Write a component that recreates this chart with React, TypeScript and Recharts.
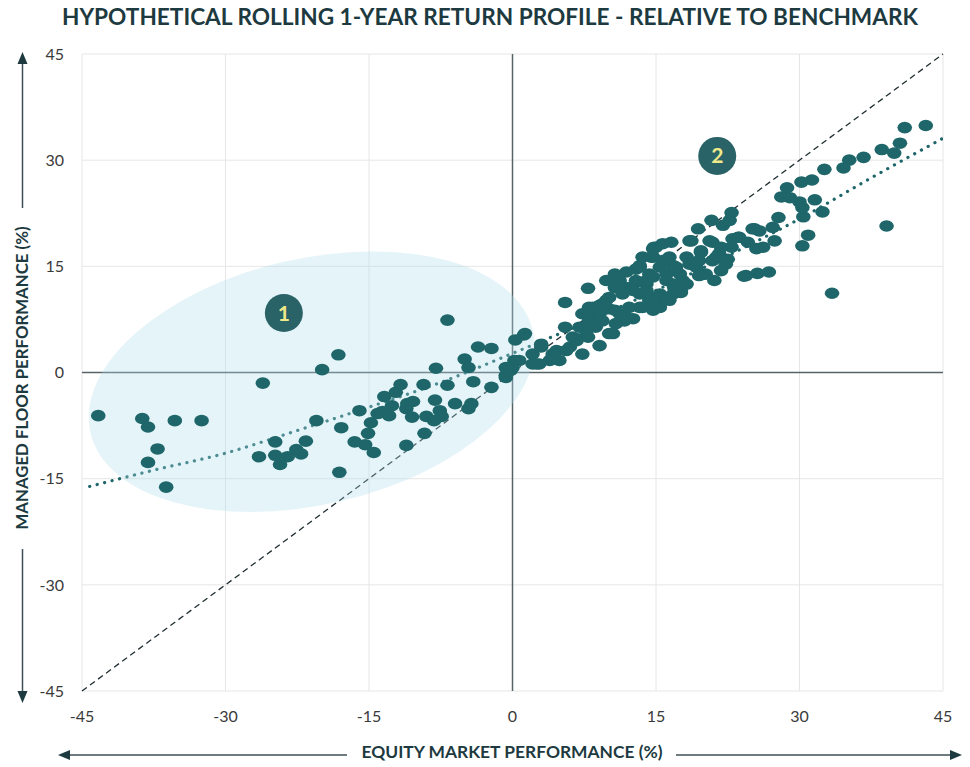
import React from "react";
import {
  ComposedChart,
  Scatter,
  Line,
  XAxis,
  YAxis,
  CartesianGrid,
  ReferenceLine,
} from "recharts";

// axis ticks (%)
const TICKS = [-45, -30, -15, 0, 15, 30, 45];

// [equity market %, managed floor %] — downside / left side
const downsidePoints: [number, number][] = [
  [-43.3, -6.1], [-38.7, -6.5], [-38.1, -7.7], [-35.3, -6.8], [-32.5, -6.8],
  [-37.1, -10.8], [-38.1, -12.7], [-36.2, -16.2], [-26.1, -1.5], [-19.9, 0.4],
  [-18.2, 2.5], [-6.8, 7.4], [-26.5, -11.9], [-24.8, -9.8], [-24.8, -11.7],
  [-24.3, -13.0], [-23.5, -11.9], [-22.6, -10.9], [-22.1, -11.5], [-21.6, -9.7],
  [-20.5, -6.8], [-17.9, -7.8], [-18.1, -14.1], [-16.5, -9.8], [-15.4, -10.2],
  [-14.5, -11.3], [-16.0, -5.4], [-15.1, -8.6], [-14.8, -7.1], [-14.1, -5.8],
  [-13.6, -5.5], [-12.9, -6.1], [-13.4, -3.4], [-12.6, -4.7], [-12.2, -2.8],
  [-11.7, -1.7], [-11.1, -10.3], [-11.1, -5.1], [-11.0, -4.4], [-10.5, -6.3],
  [-10.4, -4.1], [-9.3, -1.7], [-9.2, -8.6], [-9.0, -6.2], [-8.1, -3.9],
  [-8.2, -6.8], [-7.6, -5.4], [-7.4, -6.2], [-8.0, 0.6], [-6.8, -1.8],
  [-6.0, -4.4], [-5.0, 1.9], [-4.6, 0.7], [-4.1, -1.3], [-4.6, -5.1],
  [-4.3, -4.4], [-3.6, 3.6], [-2.2, 3.4], [-2.2, -2.1], [-0.7, -0.4],
  [-0.2, 0.3], [0.3, 4.6], [1.2, 5.3], [0.2, 1.7],
];

// upside / right side
const upsidePoints: [number, number][] = [
  [41.0, 34.6], [43.2, 34.9], [38.6, 31.5], [39.9, 31.0], [40.5, 32.4],
  [36.7, 30.4], [35.2, 30.0], [34.6, 28.9], [32.6, 28.7], [31.3, 27.2],
  [30.2, 26.9], [28.7, 26.1], [28.1, 24.8], [29.0, 24.7], [30.0, 24.1],
  [31.6, 24.4], [32.4, 22.7], [30.4, 22.0], [30.3, 23.3], [27.8, 21.9],
  [27.2, 20.5], [25.3, 20.3], [25.8, 20.0], [30.9, 19.4], [30.3, 17.9],
  [39.1, 20.7], [33.4, 11.2], [24.2, 13.6], [25.6, 14.0], [26.8, 14.2],
  [27.4, 18.6], [26.2, 17.7], [25.5, 17.5], [24.6, 18.4], [23.6, 19.1],
  [22.9, 17.7], [22.9, 22.6], [22.0, 20.8], [20.8, 21.5], [19.4, 20.3],
  [18.5, 18.6], [19.7, 17.0], [20.9, 18.4], [21.6, 16.8], [22.5, 16.0],
  [20.9, 15.8], [21.8, 14.4], [21.1, 13.0], [18.7, 15.4], [19.9, 13.9],
  [16.6, 18.4], [15.0, 17.7], [14.5, 16.3], [15.7, 15.8], [13.3, 15.1],
  [11.9, 14.2], [7.9, 11.9], [5.5, 9.9], [10.8, 12.0], [14.0, 12.5],
  [16.1, 13.9], [17.8, 13.0], [17.6, 11.3], [16.4, 10.2], [15.4, 9.7],
  [14.0, 11.1], [13.3, 9.2], [12.6, 7.6], [14.7, 8.8], [9.8, 10.2],
  [9.1, 9.5], [8.4, 8.3], [10.1, 9.0], [11.2, 8.3], [11.9, 7.8],
  [10.5, 5.5], [9.1, 3.8], [7.3, 2.6], [6.7, 4.8], [5.5, 6.4],
  [8.7, 6.4], [7.7, 5.9], [8.0, 7.3], [6.0, 3.6], [4.6, 3.1],
  [3.0, 3.6], [4.2, 2.2], [2.8, 1.2], [1.3, 5.5], [0.7, 1.7],
  [2.1, 1.2], [-0.7, -0.7], [0.0, 0.7], [9.8, 13.0], [10.7, 13.9],
  [11.9, 12.0], [12.9, 12.7], [13.3, 11.1], [14.7, 17.5], [14.3, 13.9],
  [16.8, 15.1], [16.9, 12.0], [3.0, 4.0], [4.2, 2.6], [5.6, 3.1],
  [6.7, 4.5], [7.9, 5.0], [8.7, 6.9], [10.1, 5.5], [9.1, 8.3],
  [8.4, 9.2], [10.1, 10.6], [10.7, 12.0], [12.9, 14.6], [11.2, 13.0],
  [11.5, 11.1], [14.0, 11.6], [14.7, 13.5], [14.8, 17.7], [15.7, 18.2],
  [14.7, 16.3], [15.4, 14.9], [16.1, 13.0], [15.4, 11.1], [16.8, 11.1],
  [17.6, 11.6], [17.5, 13.9], [18.5, 15.3], [18.7, 18.6], [22.7, 21.5],
  [19.7, 17.2], [20.6, 18.6], [21.3, 16.3], [21.8, 17.7], [23.0, 18.9],
  [20.2, 13.9], [19.5, 13.7], [19.2, 14.9], [24.4, 13.7], [23.7, 19.1],
  [25.1, 20.3], [13.6, 16.3], [12.9, 13.0], [10.7, 8.8], [11.7, 7.3],
  [8.0, 9.2], [7.0, 6.4], [6.3, 5.0], [2.1, 2.6], [-0.7, 0.7],
  [3.9, 1.7], [2.5, 1.2], [4.9, 1.7], [7.3, 8.3], [9.4, 7.3],
  [13.3, 14.9], [14.0, 13.0], [16.4, 16.3], [17.1, 14.9], [15.4, 9.2],
  [13.6, 9.2], [16.1, 10.6], [18.2, 12.5], [10.8, 6.9], [9.4, 9.7],
  [12.6, 11.6], [12.2, 9.2], [14.3, 10.2], [16.8, 12.5], [18.2, 16.3],
  [19.5, 15.8], [22.3, 15.3],
];

// dotted trend curve
const trendX = [-44.2, -37.5, -30, -22.5, -15, -7.5, 0, 7.5, 15, 22.5, 30, 37.5, 45];
const trendY = [-16.1, -13.8, -11.4, -8.2, -4.9, -1.4, 2.7, 7.0, 11.6, 16.5, 21.7, 27.5, 33.1];

// shaded zone + numbered markers
const zoneCenter = [{ x: -21.0, y: -1.3 }];
const markers = [
  { x: -23.9, y: 8.4, label: "1" },
  { x: 21.4, y: 30.6, label: "2" },
];

const TEAL = "#1e6669";
const INK = "#1d3a40";
const FONT = "Lato, 'Noto Sans', sans-serif";

const dots = [...downsidePoints, ...upsidePoints].map(([x, y]) => ({ x, y }));
const trend = trendX.map((x, i) => ({ x, y: trendY[i] }));

const DotShape = (p: any) => (
  <ellipse cx={p.cx} cy={p.cy} rx={7.3} ry={5.8} fill={TEAL} />
);

const ZoneShape = (p: any) => (
  <ellipse
    cx={p.cx}
    cy={p.cy}
    rx={227}
    ry={123}
    fill="rgb(175,221,232)"
    fillOpacity={0.32}
    transform={`rotate(-13 ${p.cx} ${p.cy})`}
  />
);

const MarkerShape = (p: any) => (
  <g>
    <circle cx={p.cx} cy={p.cy} r={19} fill="#2a6367" />
    <text
      x={p.cx}
      y={p.cy + 7.5}
      textAnchor="middle"
      fontFamily={FONT}
      fontWeight={700}
      fontSize={21}
      fill="#f0e98a"
    >
      {p.payload.label}
    </text>
  </g>
);

const tickStyle = { fontFamily: FONT, fontSize: 16, fill: "#3a3a3a" };

export default function App() {
  return (
    <div style={{ position: "absolute", left: 0, top: 0, width: 970, height: 767, background: "#fff" }}>
      <ComposedChart
        width={970}
        height={767}
        margin={{ top: 54, right: 27, bottom: 26, left: 22 }}
      >
        <CartesianGrid stroke="#e6e6e6" strokeWidth={1} />
        <XAxis
          type="number"
          dataKey="x"
          domain={[-45, 45]}
          ticks={TICKS}
          axisLine={false}
          tickLine={false}
          tickSize={0}
          tickMargin={20}
          height={50}
          tick={tickStyle}
          allowDataOverflow
        />
        <YAxis
          type="number"
          dataKey="y"
          domain={[-45, 45]}
          ticks={TICKS}
          axisLine={false}
          tickLine={false}
          tickSize={0}
          tickMargin={18}
          width={60}
          tick={tickStyle}
          allowDataOverflow
        />
        <Scatter data={zoneCenter} shape={ZoneShape} isAnimationActive={false} />
        <ReferenceLine x={0} stroke="#56646a" strokeWidth={1.5} />
        <ReferenceLine y={0} stroke="#56646a" strokeWidth={1.5} />
        <Line
          data={trend}
          dataKey="y"
          type="monotone"
          dot={false}
          activeDot={false}
          stroke={TEAL}
          strokeWidth={3.2}
          strokeDasharray="0.1 7.6"
          strokeLinecap="round"
          isAnimationActive={false}
        />
        <Scatter data={dots} shape={DotShape} isAnimationActive={false} />
        <ReferenceLine
          segment={[{ x: -45, y: -45 }, { x: 45, y: 45 }]}
          stroke="#1f2d31"
          strokeWidth={1.3}
          strokeDasharray="6 4"
        />
        <Scatter data={markers} shape={MarkerShape} isAnimationActive={false} />
      </ComposedChart>

      <svg
        width={970}
        height={767}
        style={{ position: "absolute", left: 0, top: 0, pointerEvents: "none" }}
      >
        <text
          x={490}
          y={25}
          textAnchor="middle"
          fontFamily={FONT}
          fontWeight={700}
          fontSize={22}
          fill={INK}
          textLength={856}
          lengthAdjust="spacingAndGlyphs"
        >
          HYPOTHETICAL ROLLING 1-YEAR RETURN PROFILE - RELATIVE TO BENCHMARK
        </text>

        {/* x axis title with arrows */}
        <text
          x={512}
          y={758}
          textAnchor="middle"
          fontFamily={FONT}
          fontWeight={700}
          fontSize={17}
          fill={INK}
          textLength={301}
          lengthAdjust="spacingAndGlyphs"
        >
          EQUITY MARKET PERFORMANCE (%)
        </text>
        <line x1={347} y1={755} x2={66} y2={755} stroke="#3d4f55" strokeWidth={1.5} />
        <polygon points="58,755 70,750 70,760" fill={INK} />
        <line x1={676} y1={755} x2={954} y2={755} stroke="#3d4f55" strokeWidth={1.5} />
        <polygon points="962,755 950,750 950,760" fill={INK} />

        {/* y axis title with arrows */}
        <text
          x={0}
          y={0}
          transform="translate(28 378) rotate(-90)"
          textAnchor="middle"
          fontFamily={FONT}
          fontWeight={700}
          fontSize={17}
          fill={INK}
          textLength={303}
          lengthAdjust="spacingAndGlyphs"
        >
          MANAGED FLOOR PERFORMANCE (%)
        </text>
        <line x1={22.5} y1={208} x2={22.5} y2={60} stroke="#3d4f55" strokeWidth={1.5} />
        <polygon points="22.5,52 17.5,64 27.5,64" fill={INK} />
        <line x1={22.5} y1={549} x2={22.5} y2={695} stroke="#3d4f55" strokeWidth={1.5} />
        <polygon points="22.5,703 17.5,691 27.5,691" fill={INK} />
      </svg>
    </div>
  );
}
